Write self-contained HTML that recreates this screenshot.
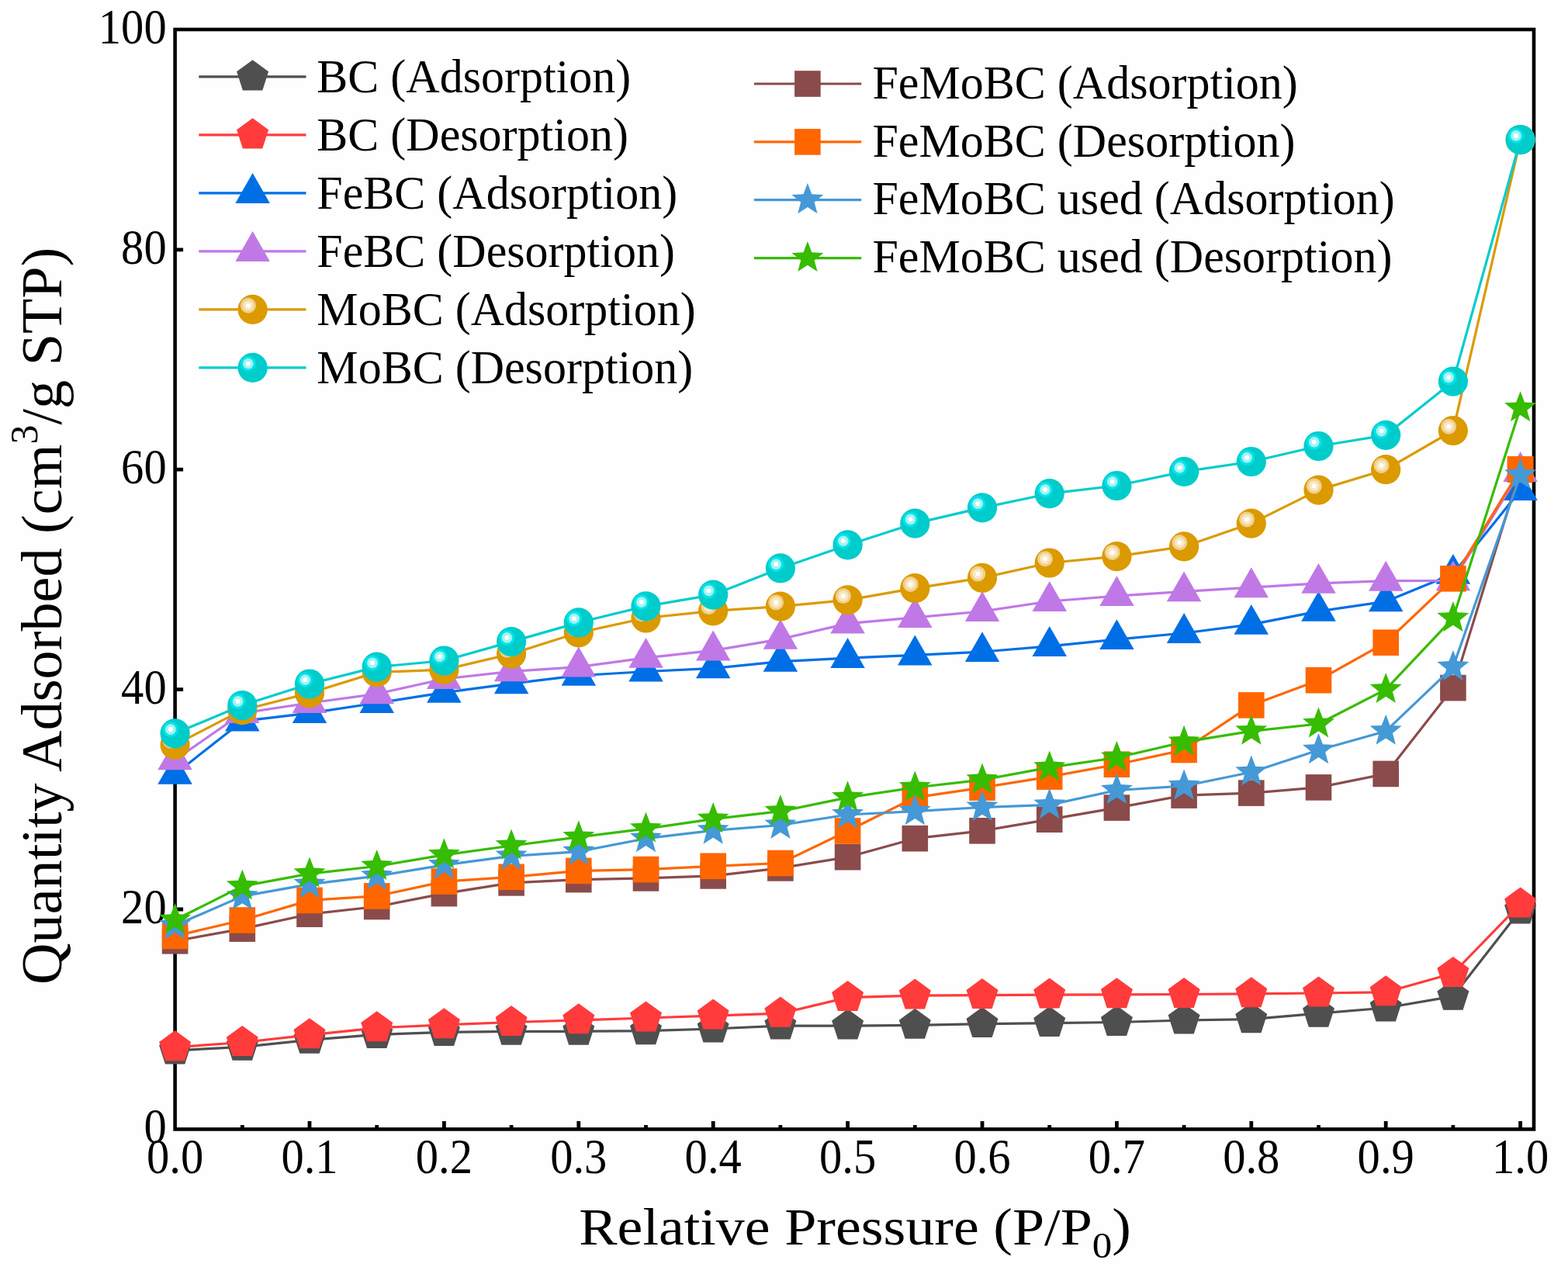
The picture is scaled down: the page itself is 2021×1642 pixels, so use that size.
<!DOCTYPE html>
<html><head><meta charset="utf-8"><title>Isotherms</title><style>html,body{margin:0;padding:0;background:#fefefe;}svg{display:block;}</style></head><body>
<svg width="2021" height="1642" viewBox="0 0 2021 1642">
<rect width="2021" height="1642" fill="#fefefe"/>
<path d="M399 1455.4V1444.9 M572.4 1455.4V1444.9 M745.8 1455.4V1444.9 M919.2 1455.4V1444.9 M1092.6 1455.4V1444.9 M1266 1455.4V1444.9 M1439.4 1455.4V1444.9 M1612.8 1455.4V1444.9 M1786.2 1455.4V1444.9 M1959.6 1455.4V1444.9 M312.3 1455.4V1449.9 M485.7 1455.4V1449.9 M659.1 1455.4V1449.9 M832.5 1455.4V1449.9 M1005.9 1455.4V1449.9 M1179.3 1455.4V1449.9 M1352.7 1455.4V1449.9 M1526.1 1455.4V1449.9 M1699.5 1455.4V1449.9 M1872.9 1455.4V1449.9 M225.6 1172H236.1 M225.6 888.6H236.1 M225.6 605.2H236.1 M225.6 321.8H236.1" stroke="#000" stroke-width="4.8" fill="none"/>
<rect x="225.6" y="38" width="1751.4" height="1417.4" fill="none" stroke="#000" stroke-width="4.6"/>
<g font-family="Liberation Serif, serif" font-size="63" fill="#000" text-anchor="middle">
<text transform="translate(225.6 1512) scale(0.93 1)">0.0</text>
<text transform="translate(399 1512) scale(0.93 1)">0.1</text>
<text transform="translate(572.4 1512) scale(0.93 1)">0.2</text>
<text transform="translate(745.8 1512) scale(0.93 1)">0.3</text>
<text transform="translate(919.2 1512) scale(0.93 1)">0.4</text>
<text transform="translate(1092.6 1512) scale(0.93 1)">0.5</text>
<text transform="translate(1266 1512) scale(0.93 1)">0.6</text>
<text transform="translate(1439.4 1512) scale(0.93 1)">0.7</text>
<text transform="translate(1612.8 1512) scale(0.93 1)">0.8</text>
<text transform="translate(1786.2 1512) scale(0.93 1)">0.9</text>
<text transform="translate(1959.6 1512) scale(0.93 1)">1.0</text>
</g>
<g font-family="Liberation Serif, serif" font-size="63" fill="#000" text-anchor="end">
<text transform="translate(214.7 1473.4) scale(0.93 1)">0</text>
<text transform="translate(214.7 1190) scale(0.93 1)">20</text>
<text transform="translate(214.7 906.6) scale(0.93 1)">40</text>
<text transform="translate(214.7 623.2) scale(0.93 1)">60</text>
<text transform="translate(214.7 339.8) scale(0.93 1)">80</text>
<text transform="translate(214.7 56.4) scale(0.93 1)">100</text>
</g>
<text transform="translate(746.2 1603.7) scale(1 0.9)" font-family="Liberation Serif, serif" font-size="74" fill="#000">Relative Pressure (P/P<tspan font-size="51" dy="19.5">0</tspan><tspan dy="-19.5">)</tspan></text>
<text transform="translate(78.6 1269) rotate(-90)" font-family="Liberation Serif, serif" font-size="74.2" fill="#000">Quantity Adsorbed (cm<tspan font-size="50" dy="-30.5">3</tspan><tspan dy="30.5">/g STP)</tspan></text>
<polyline points="225.6,1353.9 312.3,1349.3 399,1340.3 485.7,1333.4 572.4,1330.4 659.1,1329.3 745.8,1329.3 832.5,1328.7 919.2,1326 1005.9,1322.1 1092.6,1322.1 1179.3,1321.4 1266,1319.7 1352.7,1318.7 1439.4,1317.5 1526.1,1315 1612.8,1313.7 1699.5,1306.2 1786.2,1299 1872.9,1284.2 1959.6,1173.1" fill="none" stroke="#4f4f4f" stroke-width="3.2" stroke-linejoin="round"/>
<g><polygon points="225.6,1332.3 246.1,1347.3 238.3,1371.4 212.9,1371.4 205.1,1347.3" fill="#4f4f4f"/><polygon points="312.3,1327.7 332.8,1342.6 325,1366.7 299.6,1366.7 291.8,1342.6" fill="#4f4f4f"/><polygon points="399,1318.7 419.5,1333.7 411.7,1357.8 386.3,1357.8 378.5,1333.7" fill="#4f4f4f"/><polygon points="485.7,1311.8 506.2,1326.7 498.4,1350.9 473,1350.9 465.2,1326.7" fill="#4f4f4f"/><polygon points="572.4,1308.8 592.9,1323.7 585.1,1347.9 559.7,1347.9 551.9,1323.7" fill="#4f4f4f"/><polygon points="659.1,1307.7 679.6,1322.6 671.8,1346.8 646.4,1346.8 638.6,1322.6" fill="#4f4f4f"/><polygon points="745.8,1307.7 766.3,1322.6 758.5,1346.8 733.1,1346.8 725.3,1322.6" fill="#4f4f4f"/><polygon points="832.5,1307.1 853,1322 845.2,1346.2 819.8,1346.2 812,1322" fill="#4f4f4f"/><polygon points="919.2,1304.4 939.7,1319.4 931.9,1343.5 906.5,1343.5 898.7,1319.4" fill="#4f4f4f"/><polygon points="1005.9,1300.5 1026.4,1315.4 1018.6,1339.5 993.2,1339.5 985.4,1315.4" fill="#4f4f4f"/><polygon points="1092.6,1300.5 1113.1,1315.4 1105.3,1339.5 1079.9,1339.5 1072.1,1315.4" fill="#4f4f4f"/><polygon points="1179.3,1299.8 1199.8,1314.7 1192,1338.8 1166.6,1338.8 1158.8,1314.7" fill="#4f4f4f"/><polygon points="1266,1298.1 1286.5,1313 1278.7,1337.1 1253.3,1337.1 1245.5,1313" fill="#4f4f4f"/><polygon points="1352.7,1297.1 1373.2,1312 1365.4,1336.1 1340,1336.1 1332.2,1312" fill="#4f4f4f"/><polygon points="1439.4,1295.9 1459.9,1310.9 1452.1,1335 1426.7,1335 1418.9,1310.9" fill="#4f4f4f"/><polygon points="1526.1,1293.4 1546.6,1308.3 1538.8,1332.5 1513.4,1332.5 1505.6,1308.3" fill="#4f4f4f"/><polygon points="1612.8,1292.1 1633.3,1307 1625.5,1331.2 1600.1,1331.2 1592.3,1307" fill="#4f4f4f"/><polygon points="1699.5,1284.6 1720,1299.5 1712.2,1323.7 1686.8,1323.7 1679,1299.5" fill="#4f4f4f"/><polygon points="1786.2,1277.4 1806.7,1292.3 1798.9,1316.4 1773.5,1316.4 1765.7,1292.3" fill="#4f4f4f"/><polygon points="1872.9,1262.6 1893.4,1277.6 1885.6,1301.7 1860.2,1301.7 1852.4,1277.6" fill="#4f4f4f"/><polygon points="1959.6,1151.5 1980.1,1166.5 1972.3,1190.6 1946.9,1190.6 1939.1,1166.5" fill="#4f4f4f"/></g>
<polyline points="225.6,1349.7 312.3,1343.5 399,1333.8 485.7,1324.8 572.4,1320.8 659.1,1317.5 745.8,1314.8 832.5,1312 919.2,1309.2 1005.9,1306.2 1092.6,1285.6 1179.3,1283.1 1266,1282.7 1352.7,1282.1 1439.4,1281.8 1526.1,1281.5 1612.8,1280.8 1699.5,1280 1786.2,1278.8 1872.9,1254.5 1959.6,1165.1" fill="none" stroke="#ff3b3b" stroke-width="3.2" stroke-linejoin="round"/>
<g><polygon points="225.6,1328.1 246.1,1343 238.3,1367.2 212.9,1367.2 205.1,1343" fill="#ff3b3b"/><polygon points="312.3,1321.9 332.8,1336.8 325,1360.9 299.6,1360.9 291.8,1336.8" fill="#ff3b3b"/><polygon points="399,1312.2 419.5,1327.1 411.7,1351.3 386.3,1351.3 378.5,1327.1" fill="#ff3b3b"/><polygon points="485.7,1303.2 506.2,1318.1 498.4,1342.2 473,1342.2 465.2,1318.1" fill="#ff3b3b"/><polygon points="572.4,1299.2 592.9,1314.1 585.1,1338.3 559.7,1338.3 551.9,1314.1" fill="#ff3b3b"/><polygon points="659.1,1295.9 679.6,1310.9 671.8,1335 646.4,1335 638.6,1310.9" fill="#ff3b3b"/><polygon points="745.8,1293.2 766.3,1308.2 758.5,1332.3 733.1,1332.3 725.3,1308.2" fill="#ff3b3b"/><polygon points="832.5,1290.4 853,1305.3 845.2,1329.5 819.8,1329.5 812,1305.3" fill="#ff3b3b"/><polygon points="919.2,1287.6 939.7,1302.5 931.9,1326.6 906.5,1326.6 898.7,1302.5" fill="#ff3b3b"/><polygon points="1005.9,1284.6 1026.4,1299.5 1018.6,1323.7 993.2,1323.7 985.4,1299.5" fill="#ff3b3b"/><polygon points="1092.6,1264 1113.1,1279 1105.3,1303.1 1079.9,1303.1 1072.1,1279" fill="#ff3b3b"/><polygon points="1179.3,1261.5 1199.8,1276.4 1192,1300.6 1166.6,1300.6 1158.8,1276.4" fill="#ff3b3b"/><polygon points="1266,1261.1 1286.5,1276 1278.7,1300.1 1253.3,1300.1 1245.5,1276" fill="#ff3b3b"/><polygon points="1352.7,1260.5 1373.2,1275.4 1365.4,1299.6 1340,1299.6 1332.2,1275.4" fill="#ff3b3b"/><polygon points="1439.4,1260.2 1459.9,1275.1 1452.1,1299.3 1426.7,1299.3 1418.9,1275.1" fill="#ff3b3b"/><polygon points="1526.1,1259.9 1546.6,1274.9 1538.8,1299 1513.4,1299 1505.6,1274.9" fill="#ff3b3b"/><polygon points="1612.8,1259.2 1633.3,1274.2 1625.5,1298.3 1600.1,1298.3 1592.3,1274.2" fill="#ff3b3b"/><polygon points="1699.5,1258.4 1720,1273.3 1712.2,1297.5 1686.8,1297.5 1679,1273.3" fill="#ff3b3b"/><polygon points="1786.2,1257.2 1806.7,1272.2 1798.9,1296.3 1773.5,1296.3 1765.7,1272.2" fill="#ff3b3b"/><polygon points="1872.9,1232.9 1893.4,1247.8 1885.6,1271.9 1860.2,1271.9 1852.4,1247.8" fill="#ff3b3b"/><polygon points="1959.6,1143.5 1980.1,1158.4 1972.3,1182.5 1946.9,1182.5 1939.1,1158.4" fill="#ff3b3b"/></g>
<polyline points="225.6,997.7 312.3,929.4 399,919.1 485.7,906 572.4,892.7 659.1,881.2 745.8,870.7 832.5,865.5 919.2,861.3 1005.9,852.7 1092.6,848.1 1179.3,844.4 1266,840.1 1352.7,832.9 1439.4,824.1 1526.1,816 1612.8,804.9 1699.5,787.9 1786.2,775.2 1872.9,739.8 1959.6,632.1" fill="none" stroke="#006fe6" stroke-width="3.2" stroke-linejoin="round"/>
<g><polygon points="225.6,971.8 247.8,1010.7 203.3,1010.7" fill="#006fe6"/><polygon points="312.3,903.5 334.6,942.4 290.1,942.4" fill="#006fe6"/><polygon points="399,893.1 421.2,932 376.8,932" fill="#006fe6"/><polygon points="485.7,880.1 508,919 463.5,919" fill="#006fe6"/><polygon points="572.4,866.8 594.6,905.7 550.1,905.7" fill="#006fe6"/><polygon points="659.1,855.3 681.4,894.2 636.9,894.2" fill="#006fe6"/><polygon points="745.8,844.8 768.1,883.7 723.6,883.7" fill="#006fe6"/><polygon points="832.5,839.6 854.8,878.5 810.3,878.5" fill="#006fe6"/><polygon points="919.2,835.3 941.5,874.2 897,874.2" fill="#006fe6"/><polygon points="1005.9,826.8 1028.2,865.7 983.7,865.7" fill="#006fe6"/><polygon points="1092.6,822.1 1114.8,861 1070.3,861" fill="#006fe6"/><polygon points="1179.3,818.5 1201.5,857.4 1157,857.4" fill="#006fe6"/><polygon points="1266,814.2 1288.2,853.1 1243.8,853.1" fill="#006fe6"/><polygon points="1352.7,807 1375,845.9 1330.5,845.9" fill="#006fe6"/><polygon points="1439.4,798.2 1461.7,837.1 1417.2,837.1" fill="#006fe6"/><polygon points="1526.1,790.1 1548.3,829 1503.8,829" fill="#006fe6"/><polygon points="1612.8,778.9 1635,817.8 1590.5,817.8" fill="#006fe6"/><polygon points="1699.5,761.9 1721.8,800.8 1677.2,800.8" fill="#006fe6"/><polygon points="1786.2,749.3 1808.5,788.2 1764,788.2" fill="#006fe6"/><polygon points="1872.9,713.9 1895.2,752.8 1850.7,752.8" fill="#006fe6"/><polygon points="1959.6,606.2 1981.8,645.1 1937.3,645.1" fill="#006fe6"/></g>
<polyline points="225.6,979.3 312.3,919.1 399,906 485.7,894.3 572.4,875 659.1,865.4 745.8,859.6 832.5,847.8 919.2,838.4 1005.9,823.8 1092.6,803.6 1179.3,795.9 1266,788 1352.7,775 1439.4,768.2 1526.1,762.3 1612.8,757.2 1699.5,751.9 1786.2,748.7 1872.9,748.3 1959.6,608" fill="none" stroke="#c078e6" stroke-width="3.2" stroke-linejoin="round"/>
<g><polygon points="225.6,953.4 247.8,992.3 203.3,992.3" fill="#c078e6"/><polygon points="312.3,893.1 334.6,932 290.1,932" fill="#c078e6"/><polygon points="399,880.1 421.2,919 376.8,919" fill="#c078e6"/><polygon points="485.7,868.3 508,907.2 463.5,907.2" fill="#c078e6"/><polygon points="572.4,849.1 594.6,888 550.1,888" fill="#c078e6"/><polygon points="659.1,839.4 681.4,878.3 636.9,878.3" fill="#c078e6"/><polygon points="745.8,833.6 768.1,872.5 723.6,872.5" fill="#c078e6"/><polygon points="832.5,821.9 854.8,860.8 810.3,860.8" fill="#c078e6"/><polygon points="919.2,812.5 941.5,851.4 897,851.4" fill="#c078e6"/><polygon points="1005.9,797.9 1028.2,836.8 983.7,836.8" fill="#c078e6"/><polygon points="1092.6,777.6 1114.8,816.5 1070.3,816.5" fill="#c078e6"/><polygon points="1179.3,770 1201.5,808.9 1157,808.9" fill="#c078e6"/><polygon points="1266,762.1 1288.2,801 1243.8,801" fill="#c078e6"/><polygon points="1352.7,749 1375,787.9 1330.5,787.9" fill="#c078e6"/><polygon points="1439.4,742.2 1461.7,781.1 1417.2,781.1" fill="#c078e6"/><polygon points="1526.1,736.4 1548.3,775.3 1503.8,775.3" fill="#c078e6"/><polygon points="1612.8,731.3 1635,770.2 1590.5,770.2" fill="#c078e6"/><polygon points="1699.5,725.9 1721.8,764.8 1677.2,764.8" fill="#c078e6"/><polygon points="1786.2,722.8 1808.5,761.7 1764,761.7" fill="#c078e6"/><polygon points="1872.9,722.4 1895.2,761.3 1850.7,761.3" fill="#c078e6"/><polygon points="1959.6,582.1 1981.8,621 1937.3,621" fill="#c078e6"/></g>
<polyline points="225.6,959.9 312.3,915.2 399,893.3 485.7,866.4 572.4,863.1 659.1,842.8 745.8,815.3 832.5,796.5 919.2,787.4 1005.9,781.6 1092.6,773.3 1179.3,758.2 1266,744.8 1352.7,725.5 1439.4,717.1 1526.1,704.4 1612.8,674.6 1699.5,631.6 1786.2,605.2 1872.9,555 1959.6,180.1" fill="none" stroke="#db9a00" stroke-width="3.2" stroke-linejoin="round"/>
<g><circle cx="225.6" cy="959.9" r="19.1" fill="#db9a00"/><circle cx="219.9" cy="954.7" r="10" fill="#f0d08a"/><circle cx="219.9" cy="954.7" r="6.8" fill="#f8e6bf"/><circle cx="219.9" cy="954.7" r="3" fill="#fff"/><circle cx="312.3" cy="915.2" r="19.1" fill="#db9a00"/><circle cx="306.6" cy="910" r="10" fill="#f0d08a"/><circle cx="306.6" cy="910" r="6.8" fill="#f8e6bf"/><circle cx="306.6" cy="910" r="3" fill="#fff"/><circle cx="399" cy="893.3" r="19.1" fill="#db9a00"/><circle cx="393.3" cy="888.1" r="10" fill="#f0d08a"/><circle cx="393.3" cy="888.1" r="6.8" fill="#f8e6bf"/><circle cx="393.3" cy="888.1" r="3" fill="#fff"/><circle cx="485.7" cy="866.4" r="19.1" fill="#db9a00"/><circle cx="480" cy="861.2" r="10" fill="#f0d08a"/><circle cx="480" cy="861.2" r="6.8" fill="#f8e6bf"/><circle cx="480" cy="861.2" r="3" fill="#fff"/><circle cx="572.4" cy="863.1" r="19.1" fill="#db9a00"/><circle cx="566.7" cy="857.9" r="10" fill="#f0d08a"/><circle cx="566.7" cy="857.9" r="6.8" fill="#f8e6bf"/><circle cx="566.7" cy="857.9" r="3" fill="#fff"/><circle cx="659.1" cy="842.8" r="19.1" fill="#db9a00"/><circle cx="653.4" cy="837.6" r="10" fill="#f0d08a"/><circle cx="653.4" cy="837.6" r="6.8" fill="#f8e6bf"/><circle cx="653.4" cy="837.6" r="3" fill="#fff"/><circle cx="745.8" cy="815.3" r="19.1" fill="#db9a00"/><circle cx="740.1" cy="810.1" r="10" fill="#f0d08a"/><circle cx="740.1" cy="810.1" r="6.8" fill="#f8e6bf"/><circle cx="740.1" cy="810.1" r="3" fill="#fff"/><circle cx="832.5" cy="796.5" r="19.1" fill="#db9a00"/><circle cx="826.8" cy="791.3" r="10" fill="#f0d08a"/><circle cx="826.8" cy="791.3" r="6.8" fill="#f8e6bf"/><circle cx="826.8" cy="791.3" r="3" fill="#fff"/><circle cx="919.2" cy="787.4" r="19.1" fill="#db9a00"/><circle cx="913.5" cy="782.2" r="10" fill="#f0d08a"/><circle cx="913.5" cy="782.2" r="6.8" fill="#f8e6bf"/><circle cx="913.5" cy="782.2" r="3" fill="#fff"/><circle cx="1005.9" cy="781.6" r="19.1" fill="#db9a00"/><circle cx="1000.2" cy="776.4" r="10" fill="#f0d08a"/><circle cx="1000.2" cy="776.4" r="6.8" fill="#f8e6bf"/><circle cx="1000.2" cy="776.4" r="3" fill="#fff"/><circle cx="1092.6" cy="773.3" r="19.1" fill="#db9a00"/><circle cx="1086.9" cy="768.1" r="10" fill="#f0d08a"/><circle cx="1086.9" cy="768.1" r="6.8" fill="#f8e6bf"/><circle cx="1086.9" cy="768.1" r="3" fill="#fff"/><circle cx="1179.3" cy="758.2" r="19.1" fill="#db9a00"/><circle cx="1173.6" cy="753" r="10" fill="#f0d08a"/><circle cx="1173.6" cy="753" r="6.8" fill="#f8e6bf"/><circle cx="1173.6" cy="753" r="3" fill="#fff"/><circle cx="1266" cy="744.8" r="19.1" fill="#db9a00"/><circle cx="1260.3" cy="739.6" r="10" fill="#f0d08a"/><circle cx="1260.3" cy="739.6" r="6.8" fill="#f8e6bf"/><circle cx="1260.3" cy="739.6" r="3" fill="#fff"/><circle cx="1352.7" cy="725.5" r="19.1" fill="#db9a00"/><circle cx="1347" cy="720.3" r="10" fill="#f0d08a"/><circle cx="1347" cy="720.3" r="6.8" fill="#f8e6bf"/><circle cx="1347" cy="720.3" r="3" fill="#fff"/><circle cx="1439.4" cy="717.1" r="19.1" fill="#db9a00"/><circle cx="1433.7" cy="711.9" r="10" fill="#f0d08a"/><circle cx="1433.7" cy="711.9" r="6.8" fill="#f8e6bf"/><circle cx="1433.7" cy="711.9" r="3" fill="#fff"/><circle cx="1526.1" cy="704.4" r="19.1" fill="#db9a00"/><circle cx="1520.4" cy="699.2" r="10" fill="#f0d08a"/><circle cx="1520.4" cy="699.2" r="6.8" fill="#f8e6bf"/><circle cx="1520.4" cy="699.2" r="3" fill="#fff"/><circle cx="1612.8" cy="674.6" r="19.1" fill="#db9a00"/><circle cx="1607.1" cy="669.4" r="10" fill="#f0d08a"/><circle cx="1607.1" cy="669.4" r="6.8" fill="#f8e6bf"/><circle cx="1607.1" cy="669.4" r="3" fill="#fff"/><circle cx="1699.5" cy="631.6" r="19.1" fill="#db9a00"/><circle cx="1693.8" cy="626.4" r="10" fill="#f0d08a"/><circle cx="1693.8" cy="626.4" r="6.8" fill="#f8e6bf"/><circle cx="1693.8" cy="626.4" r="3" fill="#fff"/><circle cx="1786.2" cy="605.2" r="19.1" fill="#db9a00"/><circle cx="1780.5" cy="600" r="10" fill="#f0d08a"/><circle cx="1780.5" cy="600" r="6.8" fill="#f8e6bf"/><circle cx="1780.5" cy="600" r="3" fill="#fff"/><circle cx="1872.9" cy="555" r="19.1" fill="#db9a00"/><circle cx="1867.2" cy="549.8" r="10" fill="#f0d08a"/><circle cx="1867.2" cy="549.8" r="6.8" fill="#f8e6bf"/><circle cx="1867.2" cy="549.8" r="3" fill="#fff"/><circle cx="1959.6" cy="180.1" r="19.1" fill="#db9a00"/><circle cx="1953.9" cy="174.9" r="10" fill="#f0d08a"/><circle cx="1953.9" cy="174.9" r="6.8" fill="#f8e6bf"/><circle cx="1953.9" cy="174.9" r="3" fill="#fff"/></g>
<polyline points="225.6,945.3 312.3,909.1 399,881.5 485.7,859.6 572.4,851.5 659.1,827.1 745.8,802.4 832.5,781.3 919.2,766.6 1005.9,732.4 1092.6,702.4 1179.3,674.6 1266,654.4 1352.7,636.2 1439.4,626 1526.1,607.9 1612.8,595 1699.5,575 1786.2,560.8 1872.9,491.6 1959.6,180.1" fill="none" stroke="#00cccc" stroke-width="3.2" stroke-linejoin="round"/>
<g><circle cx="225.6" cy="945.3" r="19.1" fill="#00cccc"/><circle cx="219.9" cy="940.1" r="10" fill="#00e4ea"/><circle cx="219.9" cy="940.1" r="6.8" fill="#a6f2f2"/><circle cx="219.9" cy="940.1" r="3" fill="#fff"/><circle cx="312.3" cy="909.1" r="19.1" fill="#00cccc"/><circle cx="306.6" cy="903.9" r="10" fill="#00e4ea"/><circle cx="306.6" cy="903.9" r="6.8" fill="#a6f2f2"/><circle cx="306.6" cy="903.9" r="3" fill="#fff"/><circle cx="399" cy="881.5" r="19.1" fill="#00cccc"/><circle cx="393.3" cy="876.3" r="10" fill="#00e4ea"/><circle cx="393.3" cy="876.3" r="6.8" fill="#a6f2f2"/><circle cx="393.3" cy="876.3" r="3" fill="#fff"/><circle cx="485.7" cy="859.6" r="19.1" fill="#00cccc"/><circle cx="480" cy="854.4" r="10" fill="#00e4ea"/><circle cx="480" cy="854.4" r="6.8" fill="#a6f2f2"/><circle cx="480" cy="854.4" r="3" fill="#fff"/><circle cx="572.4" cy="851.5" r="19.1" fill="#00cccc"/><circle cx="566.7" cy="846.3" r="10" fill="#00e4ea"/><circle cx="566.7" cy="846.3" r="6.8" fill="#a6f2f2"/><circle cx="566.7" cy="846.3" r="3" fill="#fff"/><circle cx="659.1" cy="827.1" r="19.1" fill="#00cccc"/><circle cx="653.4" cy="821.9" r="10" fill="#00e4ea"/><circle cx="653.4" cy="821.9" r="6.8" fill="#a6f2f2"/><circle cx="653.4" cy="821.9" r="3" fill="#fff"/><circle cx="745.8" cy="802.4" r="19.1" fill="#00cccc"/><circle cx="740.1" cy="797.2" r="10" fill="#00e4ea"/><circle cx="740.1" cy="797.2" r="6.8" fill="#a6f2f2"/><circle cx="740.1" cy="797.2" r="3" fill="#fff"/><circle cx="832.5" cy="781.3" r="19.1" fill="#00cccc"/><circle cx="826.8" cy="776.1" r="10" fill="#00e4ea"/><circle cx="826.8" cy="776.1" r="6.8" fill="#a6f2f2"/><circle cx="826.8" cy="776.1" r="3" fill="#fff"/><circle cx="919.2" cy="766.6" r="19.1" fill="#00cccc"/><circle cx="913.5" cy="761.4" r="10" fill="#00e4ea"/><circle cx="913.5" cy="761.4" r="6.8" fill="#a6f2f2"/><circle cx="913.5" cy="761.4" r="3" fill="#fff"/><circle cx="1005.9" cy="732.4" r="19.1" fill="#00cccc"/><circle cx="1000.2" cy="727.2" r="10" fill="#00e4ea"/><circle cx="1000.2" cy="727.2" r="6.8" fill="#a6f2f2"/><circle cx="1000.2" cy="727.2" r="3" fill="#fff"/><circle cx="1092.6" cy="702.4" r="19.1" fill="#00cccc"/><circle cx="1086.9" cy="697.2" r="10" fill="#00e4ea"/><circle cx="1086.9" cy="697.2" r="6.8" fill="#a6f2f2"/><circle cx="1086.9" cy="697.2" r="3" fill="#fff"/><circle cx="1179.3" cy="674.6" r="19.1" fill="#00cccc"/><circle cx="1173.6" cy="669.4" r="10" fill="#00e4ea"/><circle cx="1173.6" cy="669.4" r="6.8" fill="#a6f2f2"/><circle cx="1173.6" cy="669.4" r="3" fill="#fff"/><circle cx="1266" cy="654.4" r="19.1" fill="#00cccc"/><circle cx="1260.3" cy="649.2" r="10" fill="#00e4ea"/><circle cx="1260.3" cy="649.2" r="6.8" fill="#a6f2f2"/><circle cx="1260.3" cy="649.2" r="3" fill="#fff"/><circle cx="1352.7" cy="636.2" r="19.1" fill="#00cccc"/><circle cx="1347" cy="631" r="10" fill="#00e4ea"/><circle cx="1347" cy="631" r="6.8" fill="#a6f2f2"/><circle cx="1347" cy="631" r="3" fill="#fff"/><circle cx="1439.4" cy="626" r="19.1" fill="#00cccc"/><circle cx="1433.7" cy="620.8" r="10" fill="#00e4ea"/><circle cx="1433.7" cy="620.8" r="6.8" fill="#a6f2f2"/><circle cx="1433.7" cy="620.8" r="3" fill="#fff"/><circle cx="1526.1" cy="607.9" r="19.1" fill="#00cccc"/><circle cx="1520.4" cy="602.7" r="10" fill="#00e4ea"/><circle cx="1520.4" cy="602.7" r="6.8" fill="#a6f2f2"/><circle cx="1520.4" cy="602.7" r="3" fill="#fff"/><circle cx="1612.8" cy="595" r="19.1" fill="#00cccc"/><circle cx="1607.1" cy="589.8" r="10" fill="#00e4ea"/><circle cx="1607.1" cy="589.8" r="6.8" fill="#a6f2f2"/><circle cx="1607.1" cy="589.8" r="3" fill="#fff"/><circle cx="1699.5" cy="575" r="19.1" fill="#00cccc"/><circle cx="1693.8" cy="569.8" r="10" fill="#00e4ea"/><circle cx="1693.8" cy="569.8" r="6.8" fill="#a6f2f2"/><circle cx="1693.8" cy="569.8" r="3" fill="#fff"/><circle cx="1786.2" cy="560.8" r="19.1" fill="#00cccc"/><circle cx="1780.5" cy="555.6" r="10" fill="#00e4ea"/><circle cx="1780.5" cy="555.6" r="6.8" fill="#a6f2f2"/><circle cx="1780.5" cy="555.6" r="3" fill="#fff"/><circle cx="1872.9" cy="491.6" r="19.1" fill="#00cccc"/><circle cx="1867.2" cy="486.4" r="10" fill="#00e4ea"/><circle cx="1867.2" cy="486.4" r="6.8" fill="#a6f2f2"/><circle cx="1867.2" cy="486.4" r="3" fill="#fff"/><circle cx="1959.6" cy="180.1" r="19.1" fill="#00cccc"/><circle cx="1953.9" cy="174.9" r="10" fill="#00e4ea"/><circle cx="1953.9" cy="174.9" r="6.8" fill="#a6f2f2"/><circle cx="1953.9" cy="174.9" r="3" fill="#fff"/></g>
<polyline points="225.6,1212.8 312.3,1197.1 399,1178.2 485.7,1168.5 572.4,1151.6 659.1,1137.9 745.8,1133.6 832.5,1131.9 919.2,1128.9 1005.9,1118.9 1092.6,1104.7 1179.3,1080.7 1266,1070.8 1352.7,1056.2 1439.4,1041.1 1526.1,1025.1 1612.8,1022.1 1699.5,1014.9 1786.2,997.4 1872.9,886.6 1959.6,605.2" fill="none" stroke="#8b4b4b" stroke-width="3.2" stroke-linejoin="round"/>
<g><rect x="208.8" y="1196" width="33.6" height="33.6" fill="#8b4b4b"/><rect x="295.5" y="1180.3" width="33.6" height="33.6" fill="#8b4b4b"/><rect x="382.2" y="1161.4" width="33.6" height="33.6" fill="#8b4b4b"/><rect x="468.9" y="1151.7" width="33.6" height="33.6" fill="#8b4b4b"/><rect x="555.6" y="1134.8" width="33.6" height="33.6" fill="#8b4b4b"/><rect x="642.3" y="1121.1" width="33.6" height="33.6" fill="#8b4b4b"/><rect x="729" y="1116.8" width="33.6" height="33.6" fill="#8b4b4b"/><rect x="815.7" y="1115.1" width="33.6" height="33.6" fill="#8b4b4b"/><rect x="902.4" y="1112.1" width="33.6" height="33.6" fill="#8b4b4b"/><rect x="989.1" y="1102.1" width="33.6" height="33.6" fill="#8b4b4b"/><rect x="1075.8" y="1087.9" width="33.6" height="33.6" fill="#8b4b4b"/><rect x="1162.5" y="1063.9" width="33.6" height="33.6" fill="#8b4b4b"/><rect x="1249.2" y="1054" width="33.6" height="33.6" fill="#8b4b4b"/><rect x="1335.9" y="1039.4" width="33.6" height="33.6" fill="#8b4b4b"/><rect x="1422.6" y="1024.3" width="33.6" height="33.6" fill="#8b4b4b"/><rect x="1509.3" y="1008.3" width="33.6" height="33.6" fill="#8b4b4b"/><rect x="1596" y="1005.3" width="33.6" height="33.6" fill="#8b4b4b"/><rect x="1682.7" y="998.1" width="33.6" height="33.6" fill="#8b4b4b"/><rect x="1769.4" y="980.6" width="33.6" height="33.6" fill="#8b4b4b"/><rect x="1856.1" y="869.8" width="33.6" height="33.6" fill="#8b4b4b"/><rect x="1942.8" y="588.4" width="33.6" height="33.6" fill="#8b4b4b"/></g>
<polyline points="225.6,1206.4 312.3,1186 399,1160.4 485.7,1154.9 572.4,1136.1 659.1,1130.3 745.8,1122.4 832.5,1120.6 919.2,1116.3 1005.9,1112.5 1092.6,1071 1179.3,1027.9 1266,1015.1 1352.7,1001.1 1439.4,985.2 1526.1,966.5 1612.8,908.9 1699.5,876.7 1786.2,828.2 1872.9,745.8 1959.6,604.9" fill="none" stroke="#ff6600" stroke-width="3.2" stroke-linejoin="round"/>
<g><rect x="208.8" y="1189.6" width="33.6" height="33.6" fill="#ff6600"/><rect x="295.5" y="1169.2" width="33.6" height="33.6" fill="#ff6600"/><rect x="382.2" y="1143.6" width="33.6" height="33.6" fill="#ff6600"/><rect x="468.9" y="1138.1" width="33.6" height="33.6" fill="#ff6600"/><rect x="555.6" y="1119.3" width="33.6" height="33.6" fill="#ff6600"/><rect x="642.3" y="1113.5" width="33.6" height="33.6" fill="#ff6600"/><rect x="729" y="1105.6" width="33.6" height="33.6" fill="#ff6600"/><rect x="815.7" y="1103.8" width="33.6" height="33.6" fill="#ff6600"/><rect x="902.4" y="1099.5" width="33.6" height="33.6" fill="#ff6600"/><rect x="989.1" y="1095.7" width="33.6" height="33.6" fill="#ff6600"/><rect x="1075.8" y="1054.2" width="33.6" height="33.6" fill="#ff6600"/><rect x="1162.5" y="1011.1" width="33.6" height="33.6" fill="#ff6600"/><rect x="1249.2" y="998.3" width="33.6" height="33.6" fill="#ff6600"/><rect x="1335.9" y="984.3" width="33.6" height="33.6" fill="#ff6600"/><rect x="1422.6" y="968.4" width="33.6" height="33.6" fill="#ff6600"/><rect x="1509.3" y="949.7" width="33.6" height="33.6" fill="#ff6600"/><rect x="1596" y="892.1" width="33.6" height="33.6" fill="#ff6600"/><rect x="1682.7" y="859.9" width="33.6" height="33.6" fill="#ff6600"/><rect x="1769.4" y="811.4" width="33.6" height="33.6" fill="#ff6600"/><rect x="1856.1" y="729" width="33.6" height="33.6" fill="#ff6600"/><rect x="1942.8" y="588.1" width="33.6" height="33.6" fill="#ff6600"/></g>
<polyline points="225.6,1192.7 312.3,1155.1 399,1139.7 485.7,1129.1 572.4,1114.9 659.1,1103.4 745.8,1097.6 832.5,1080.7 919.2,1070.3 1005.9,1063.5 1092.6,1050 1179.3,1045.7 1266,1040.5 1352.7,1037.4 1439.4,1018.5 1526.1,1013 1612.8,995.2 1699.5,966.7 1786.2,942.3 1872.9,859.6 1959.6,612.3" fill="none" stroke="#4499d6" stroke-width="3.2" stroke-linejoin="round"/>
<g><polygon points="225.6,1171.1 231,1185.2 246.1,1186 234.3,1195.5 238.3,1210.2 225.6,1201.9 212.9,1210.2 216.9,1195.5 205.1,1186 220.2,1185.2" fill="#4499d6"/><polygon points="312.3,1133.5 317.7,1147.7 332.8,1148.5 321,1158 325,1172.6 312.3,1164.3 299.6,1172.6 303.6,1158 291.8,1148.5 306.9,1147.7" fill="#4499d6"/><polygon points="399,1118.1 404.4,1132.2 419.5,1133 407.7,1142.5 411.7,1157.2 399,1148.9 386.3,1157.2 390.3,1142.5 378.5,1133 393.6,1132.2" fill="#4499d6"/><polygon points="485.7,1107.5 491.1,1121.6 506.2,1122.4 494.4,1131.9 498.4,1146.5 485.7,1138.3 473,1146.5 477,1131.9 465.2,1122.4 480.3,1121.6" fill="#4499d6"/><polygon points="572.4,1093.3 577.8,1107.5 592.9,1108.2 581.1,1117.7 585.1,1132.4 572.4,1124.1 559.7,1132.4 563.7,1117.7 551.9,1108.2 567,1107.5" fill="#4499d6"/><polygon points="659.1,1081.8 664.5,1096 679.6,1096.7 667.8,1106.3 671.8,1120.9 659.1,1112.6 646.4,1120.9 650.4,1106.3 638.6,1096.7 653.7,1096" fill="#4499d6"/><polygon points="745.8,1076 751.2,1090.2 766.3,1090.9 754.5,1100.5 758.5,1115.1 745.8,1106.8 733.1,1115.1 737.1,1100.5 725.3,1090.9 740.4,1090.2" fill="#4499d6"/><polygon points="832.5,1059.1 837.9,1073.3 853,1074.1 841.2,1083.6 845.2,1098.2 832.5,1089.9 819.8,1098.2 823.8,1083.6 812,1074.1 827.1,1073.3" fill="#4499d6"/><polygon points="919.2,1048.7 924.6,1062.8 939.7,1063.6 927.9,1073.1 931.9,1087.7 919.2,1079.5 906.5,1087.7 910.5,1073.1 898.7,1063.6 913.8,1062.8" fill="#4499d6"/><polygon points="1005.9,1041.9 1011.3,1056 1026.4,1056.8 1014.6,1066.3 1018.6,1080.9 1005.9,1072.7 993.2,1080.9 997.2,1066.3 985.4,1056.8 1000.5,1056" fill="#4499d6"/><polygon points="1092.6,1028.4 1098,1042.6 1113.1,1043.3 1101.3,1052.8 1105.3,1067.5 1092.6,1059.2 1079.9,1067.5 1083.9,1052.8 1072.1,1043.3 1087.2,1042.6" fill="#4499d6"/><polygon points="1179.3,1024.1 1184.7,1038.3 1199.8,1039.1 1188,1048.6 1192,1063.2 1179.3,1054.9 1166.6,1063.2 1170.6,1048.6 1158.8,1039.1 1173.9,1038.3" fill="#4499d6"/><polygon points="1266,1018.9 1271.4,1033.1 1286.5,1033.8 1274.7,1043.3 1278.7,1058 1266,1049.7 1253.3,1058 1257.3,1043.3 1245.5,1033.8 1260.6,1033.1" fill="#4499d6"/><polygon points="1352.7,1015.8 1358.1,1029.9 1373.2,1030.7 1361.4,1040.2 1365.4,1054.9 1352.7,1046.6 1340,1054.9 1344,1040.2 1332.2,1030.7 1347.3,1029.9" fill="#4499d6"/><polygon points="1439.4,996.9 1444.8,1011.1 1459.9,1011.9 1448.1,1021.4 1452.1,1036 1439.4,1027.7 1426.7,1036 1430.7,1021.4 1418.9,1011.9 1434,1011.1" fill="#4499d6"/><polygon points="1526.1,991.4 1531.5,1005.6 1546.6,1006.3 1534.8,1015.9 1538.8,1030.5 1526.1,1022.2 1513.4,1030.5 1517.4,1015.9 1505.6,1006.3 1520.7,1005.6" fill="#4499d6"/><polygon points="1612.8,973.6 1618.2,987.7 1633.3,988.5 1621.5,998 1625.5,1012.6 1612.8,1004.4 1600.1,1012.6 1604.1,998 1592.3,988.5 1607.4,987.7" fill="#4499d6"/><polygon points="1699.5,945.1 1704.9,959.2 1720,960 1708.2,969.5 1712.2,984.2 1699.5,975.9 1686.8,984.2 1690.8,969.5 1679,960 1694.1,959.2" fill="#4499d6"/><polygon points="1786.2,920.7 1791.6,934.9 1806.7,935.6 1794.9,945.1 1798.9,959.8 1786.2,951.5 1773.5,959.8 1777.5,945.1 1765.7,935.6 1780.8,934.9" fill="#4499d6"/><polygon points="1872.9,838 1878.3,852.1 1893.4,852.9 1881.6,862.4 1885.6,877 1872.9,868.8 1860.2,877 1864.2,862.4 1852.4,852.9 1867.5,852.1" fill="#4499d6"/><polygon points="1959.6,590.7 1965,604.8 1980.1,605.6 1968.3,615.1 1972.3,629.8 1959.6,621.5 1946.9,629.8 1950.9,615.1 1939.1,605.6 1954.2,604.8" fill="#4499d6"/></g>
<polyline points="225.6,1185.7 312.3,1142.1 399,1126.1 485.7,1116.5 572.4,1101.9 659.1,1090 745.8,1078.9 832.5,1068.1 919.2,1055.7 1005.9,1045.7 1092.6,1027.9 1179.3,1015 1266,1005.1 1352.7,989.1 1439.4,976.5 1526.1,956.3 1612.8,942.3 1699.5,933 1786.2,888.6 1872.9,796.6 1959.6,525.8" fill="none" stroke="#36bc00" stroke-width="3.2" stroke-linejoin="round"/>
<g><polygon points="225.6,1164.1 231,1178.3 246.1,1179.1 234.3,1188.6 238.3,1203.2 225.6,1194.9 212.9,1203.2 216.9,1188.6 205.1,1179.1 220.2,1178.3" fill="#36bc00"/><polygon points="312.3,1120.5 317.7,1134.7 332.8,1135.4 321,1144.9 325,1159.6 312.3,1151.3 299.6,1159.6 303.6,1144.9 291.8,1135.4 306.9,1134.7" fill="#36bc00"/><polygon points="399,1104.5 404.4,1118.6 419.5,1119.4 407.7,1128.9 411.7,1143.6 399,1135.3 386.3,1143.6 390.3,1128.9 378.5,1119.4 393.6,1118.6" fill="#36bc00"/><polygon points="485.7,1094.9 491.1,1109 506.2,1109.8 494.4,1119.3 498.4,1133.9 485.7,1125.7 473,1133.9 477,1119.3 465.2,1109.8 480.3,1109" fill="#36bc00"/><polygon points="572.4,1080.3 577.8,1094.4 592.9,1095.2 581.1,1104.7 585.1,1119.3 572.4,1111.1 559.7,1119.3 563.7,1104.7 551.9,1095.2 567,1094.4" fill="#36bc00"/><polygon points="659.1,1068.4 664.5,1082.5 679.6,1083.3 667.8,1092.8 671.8,1107.4 659.1,1099.2 646.4,1107.4 650.4,1092.8 638.6,1083.3 653.7,1082.5" fill="#36bc00"/><polygon points="745.8,1057.3 751.2,1071.5 766.3,1072.2 754.5,1081.7 758.5,1096.4 745.8,1088.1 733.1,1096.4 737.1,1081.7 725.3,1072.2 740.4,1071.5" fill="#36bc00"/><polygon points="832.5,1046.5 837.9,1060.7 853,1061.5 841.2,1071 845.2,1085.6 832.5,1077.3 819.8,1085.6 823.8,1071 812,1061.5 827.1,1060.7" fill="#36bc00"/><polygon points="919.2,1034.1 924.6,1048.2 939.7,1049 927.9,1058.5 931.9,1073.1 919.2,1064.9 906.5,1073.1 910.5,1058.5 898.7,1049 913.8,1048.2" fill="#36bc00"/><polygon points="1005.9,1024.1 1011.3,1038.3 1026.4,1039.1 1014.6,1048.6 1018.6,1063.2 1005.9,1054.9 993.2,1063.2 997.2,1048.6 985.4,1039.1 1000.5,1038.3" fill="#36bc00"/><polygon points="1092.6,1006.3 1098,1020.4 1113.1,1021.2 1101.3,1030.7 1105.3,1045.4 1092.6,1037.1 1079.9,1045.4 1083.9,1030.7 1072.1,1021.2 1087.2,1020.4" fill="#36bc00"/><polygon points="1179.3,993.4 1184.7,1007.6 1199.8,1008.3 1188,1017.8 1192,1032.5 1179.3,1024.2 1166.6,1032.5 1170.6,1017.8 1158.8,1008.3 1173.9,1007.6" fill="#36bc00"/><polygon points="1266,983.5 1271.4,997.6 1286.5,998.4 1274.7,1007.9 1278.7,1022.6 1266,1014.3 1253.3,1022.6 1257.3,1007.9 1245.5,998.4 1260.6,997.6" fill="#36bc00"/><polygon points="1352.7,967.5 1358.1,981.6 1373.2,982.4 1361.4,991.9 1365.4,1006.5 1352.7,998.3 1340,1006.5 1344,991.9 1332.2,982.4 1347.3,981.6" fill="#36bc00"/><polygon points="1439.4,954.9 1444.8,969 1459.9,969.8 1448.1,979.3 1452.1,993.9 1439.4,985.7 1426.7,993.9 1430.7,979.3 1418.9,969.8 1434,969" fill="#36bc00"/><polygon points="1526.1,934.7 1531.5,948.9 1546.6,949.7 1534.8,959.2 1538.8,973.8 1526.1,965.5 1513.4,973.8 1517.4,959.2 1505.6,949.7 1520.7,948.9" fill="#36bc00"/><polygon points="1612.8,920.7 1618.2,934.9 1633.3,935.6 1621.5,945.1 1625.5,959.8 1612.8,951.5 1600.1,959.8 1604.1,945.1 1592.3,935.6 1607.4,934.9" fill="#36bc00"/><polygon points="1699.5,911.4 1704.9,925.5 1720,926.3 1708.2,935.8 1712.2,950.4 1699.5,942.2 1686.8,950.4 1690.8,935.8 1679,926.3 1694.1,925.5" fill="#36bc00"/><polygon points="1786.2,867 1791.6,881.2 1806.7,881.9 1794.9,891.4 1798.9,906.1 1786.2,897.8 1773.5,906.1 1777.5,891.4 1765.7,881.9 1780.8,881.2" fill="#36bc00"/><polygon points="1872.9,775 1878.3,789.2 1893.4,790 1881.6,799.5 1885.6,814.1 1872.9,805.8 1860.2,814.1 1864.2,799.5 1852.4,790 1867.5,789.2" fill="#36bc00"/><polygon points="1959.6,504.2 1965,518.4 1980.1,519.2 1968.3,528.7 1972.3,543.3 1959.6,535 1946.9,543.3 1950.9,528.7 1939.1,519.2 1954.2,518.4" fill="#36bc00"/></g>
<path d="M256.3 98.9H394.5" stroke="#4f4f4f" stroke-width="3.2"/>
<polygon points="325.6,77.3 346.1,92.2 338.3,116.4 312.9,116.4 305.1,92.2" fill="#4f4f4f"/>
<text transform="translate(408.3 118.7) scale(0.9756 1)" font-family="Liberation Serif, serif" font-size="61.5" fill="#000">BC (Adsorption)</text>
<path d="M256.3 173.9H394.5" stroke="#ff3b3b" stroke-width="3.2"/>
<polygon points="325.6,152.3 346.1,167.2 338.3,191.4 312.9,191.4 305.1,167.2" fill="#ff3b3b"/>
<text transform="translate(408.3 193.7) scale(0.9756 1)" font-family="Liberation Serif, serif" font-size="61.5" fill="#000">BC (Desorption)</text>
<path d="M256.3 248.9H394.5" stroke="#006fe6" stroke-width="3.2"/>
<polygon points="325.6,223 347.9,261.9 303.4,261.9" fill="#006fe6"/>
<text transform="translate(408.3 268.7) scale(0.9756 1)" font-family="Liberation Serif, serif" font-size="61.5" fill="#000">FeBC (Adsorption)</text>
<path d="M256.3 323.9H394.5" stroke="#c078e6" stroke-width="3.2"/>
<polygon points="325.6,298 347.9,336.9 303.4,336.9" fill="#c078e6"/>
<text transform="translate(408.3 343.7) scale(0.9756 1)" font-family="Liberation Serif, serif" font-size="61.5" fill="#000">FeBC (Desorption)</text>
<path d="M256.3 398.9H394.5" stroke="#db9a00" stroke-width="3.2"/>
<circle cx="325.6" cy="398.9" r="19.1" fill="#db9a00"/><circle cx="319.9" cy="393.7" r="10" fill="#f0d08a"/><circle cx="319.9" cy="393.7" r="6.8" fill="#f8e6bf"/><circle cx="319.9" cy="393.7" r="3" fill="#fff"/>
<text transform="translate(408.3 418.7) scale(0.9756 1)" font-family="Liberation Serif, serif" font-size="61.5" fill="#000">MoBC (Adsorption)</text>
<path d="M256.3 473.9H394.5" stroke="#00cccc" stroke-width="3.2"/>
<circle cx="325.6" cy="473.9" r="19.1" fill="#00cccc"/><circle cx="319.9" cy="468.7" r="10" fill="#00e4ea"/><circle cx="319.9" cy="468.7" r="6.8" fill="#a6f2f2"/><circle cx="319.9" cy="468.7" r="3" fill="#fff"/>
<text transform="translate(408.3 493.7) scale(0.9756 1)" font-family="Liberation Serif, serif" font-size="61.5" fill="#000">MoBC (Desorption)</text>
<path d="M971.9 108H1110.2" stroke="#8b4b4b" stroke-width="3.2"/>
<rect x="1024.1" y="91.2" width="33.6" height="33.6" fill="#8b4b4b"/>
<text transform="translate(1124.5 126.7) scale(0.9756 1)" font-family="Liberation Serif, serif" font-size="61.5" fill="#000">FeMoBC (Adsorption)</text>
<path d="M971.9 182.9H1110.2" stroke="#ff6600" stroke-width="3.2"/>
<rect x="1024.1" y="166.1" width="33.6" height="33.6" fill="#ff6600"/>
<text transform="translate(1124.5 201.6) scale(0.9756 1)" font-family="Liberation Serif, serif" font-size="61.5" fill="#000">FeMoBC (Desorption)</text>
<path d="M971.9 257.7H1110.2" stroke="#4499d6" stroke-width="3.2"/>
<polygon points="1040.9,236.1 1046.3,250.3 1061.4,251.1 1049.6,260.6 1053.6,275.2 1040.9,266.9 1028.2,275.2 1032.2,260.6 1020.4,251.1 1035.5,250.3" fill="#4499d6"/>
<text transform="translate(1124.5 276.4) scale(0.9756 1)" font-family="Liberation Serif, serif" font-size="61.5" fill="#000">FeMoBC used (Adsorption)</text>
<path d="M971.9 332.6H1110.2" stroke="#36bc00" stroke-width="3.2"/>
<polygon points="1040.9,311 1046.3,325.2 1061.4,325.9 1049.6,335.5 1053.6,350.1 1040.9,341.8 1028.2,350.1 1032.2,335.5 1020.4,325.9 1035.5,325.2" fill="#36bc00"/>
<text transform="translate(1124.5 351.3) scale(0.9756 1)" font-family="Liberation Serif, serif" font-size="61.5" fill="#000">FeMoBC used (Desorption)</text>
</svg>
</body></html>
